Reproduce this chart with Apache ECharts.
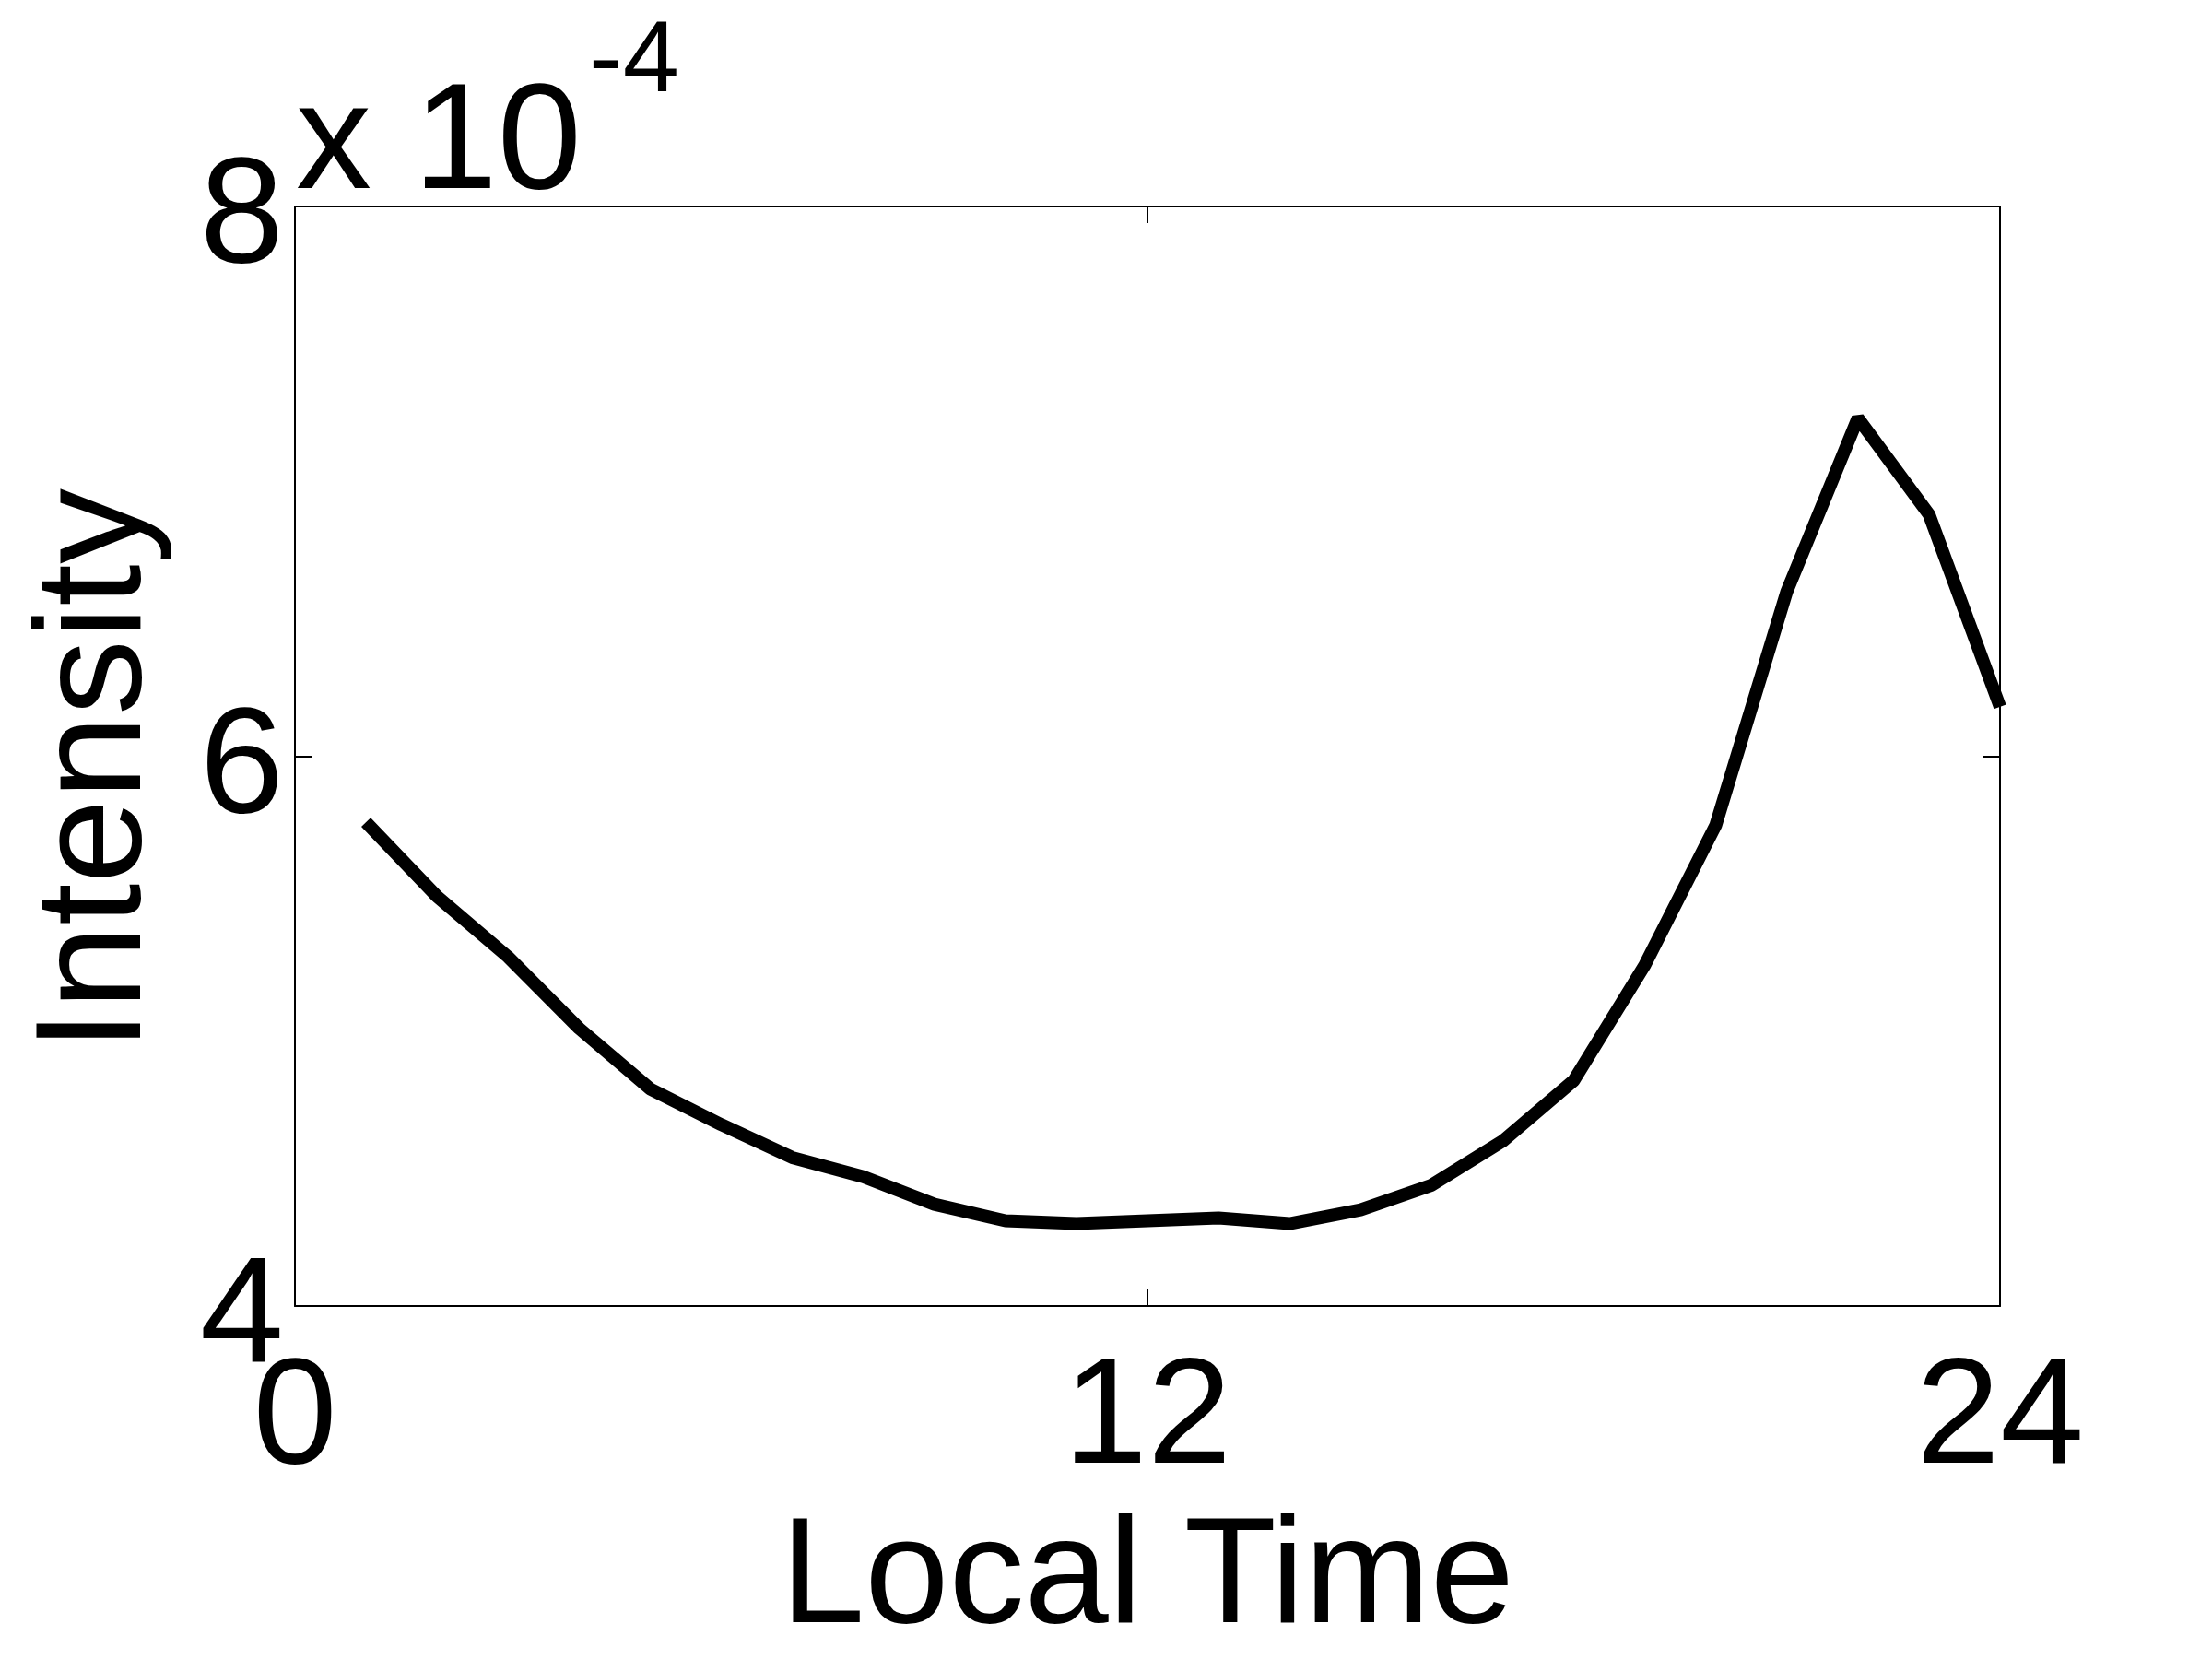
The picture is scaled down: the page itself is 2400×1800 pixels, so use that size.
<!DOCTYPE html>
<html>
<head>
<meta charset="utf-8">
<title>Intensity vs Local Time</title>
<script src="https://cdn.jsdelivr.net/npm/echarts@6/dist/echarts.min.js"></script>
<style>
    html, body { margin: 0; padding: 0; background: #fff; }
    #main { width: 2400px; height: 1800px; }
</style>
</head>
<body>
<div id="main"></div>
<script>
// local time, hours
var hours = [1, 2, 3, 4, 5, 6, 7, 8, 9, 10, 11, 12,
             13, 14, 15, 16, 17, 18, 19, 20, 21, 22, 23, 24];
// intensity, in units of 1e-4
var intensity = [5.76, 5.49, 5.27, 5.01, 4.79, 4.66, 4.54, 4.47, 4.37, 4.31, 4.30, 4.31,
                 4.32, 4.30, 4.35, 4.44, 4.60, 4.82, 5.24, 5.75, 6.60, 7.23, 6.88, 6.18];
var xTicks = [0, 12, 24];
var yTicks = [4, 6, 8];
var expBase = 'x 10';
var expPower = '-4';

var fontName = "'Liberation Sans', Arial, Helvetica, sans-serif";
var myChart = echarts.init(document.getElementById('main'));

var lineData = [];
for (var i = 0; i < hours.length; i++) {
    lineData.push([hours[i], intensity[i]]);
}

// frame lines + inward ticks, like the matlab box
function frameAxis(showLabel, extra) {
    var ax = {
        type: 'value',
        axisLine: { show: true, onZero: false, lineStyle: { color: '#000', width: 2 } },
        axisTick: { show: true, inside: true, length: 18, lineStyle: { color: '#000', width: 2 } },
        splitLine: { show: false },
        axisLabel: { show: showLabel, color: '#000', fontSize: 164, fontFamily: fontName }
    };
    for (var k in extra) ax[k] = extra[k];
    return ax;
}

var option = {
    backgroundColor: '#fff',
    animation: false,
    grid: { left: 320, right: 230, top: 224, bottom: 383, containLabel: false, outerBoundsMode: 'none' },
    xAxis: [
        frameAxis(true, {
            position: 'bottom', min: xTicks[0], max: xTicks[xTicks.length - 1], interval: xTicks[1] - xTicks[0],
            name: 'Local Time', nameLocation: 'middle', nameGap: 216,
            nameTextStyle: { color: '#000', fontSize: 164, fontFamily: fontName }
        }),
        frameAxis(false, { position: 'top', min: xTicks[0], max: xTicks[xTicks.length - 1], interval: xTicks[1] - xTicks[0] })
    ],
    yAxis: [
        frameAxis(true, {
            position: 'left', min: yTicks[0], max: yTicks[yTicks.length - 1], interval: yTicks[1] - yTicks[0],
            name: 'Intensity', nameLocation: 'middle', nameGap: 131,
            nameTextStyle: { color: '#000', fontSize: 164, fontFamily: fontName, padding: [0, 30, 0, 0] }
        }),
        frameAxis(false, { position: 'right', min: yTicks[0], max: yTicks[yTicks.length - 1], interval: yTicks[1] - yTicks[0] })
    ],
    series: [{
        name: 'Intensity',
        type: 'line',
        data: lineData,
        showSymbol: false,
        symbol: 'none',
        lineStyle: { color: '#000', width: 14 },
        clip: true
    }],
    graphic: [
        {
            type: 'text', x: 321, y: 159,
            style: { text: expBase, fill: '#000', fontSize: 164, fontFamily: fontName, verticalAlign: 'middle', align: 'left' }
        },
        {
            type: 'text', x: 639, y: 69,
            style: { text: expPower, fill: '#000', fontSize: 110, fontFamily: fontName, verticalAlign: 'middle', align: 'left' }
        }
    ]
};
// tick label offsets
option.xAxis[0].axisLabel.margin = 43;
option.yAxis[0].axisLabel.margin = 12;
// push the y tick numbers a bit below their ticks (as in the original)
option.yAxis[0].axisLabel.formatter = function (v) { return '{v|' + v + '}'; };
option.yAxis[0].axisLabel.rich = {
    v: { color: '#000', fontSize: 164, fontFamily: fontName, padding: [30, 0, 0, 0] }
};
myChart.setOption(option);
</script>
</body>
</html>
